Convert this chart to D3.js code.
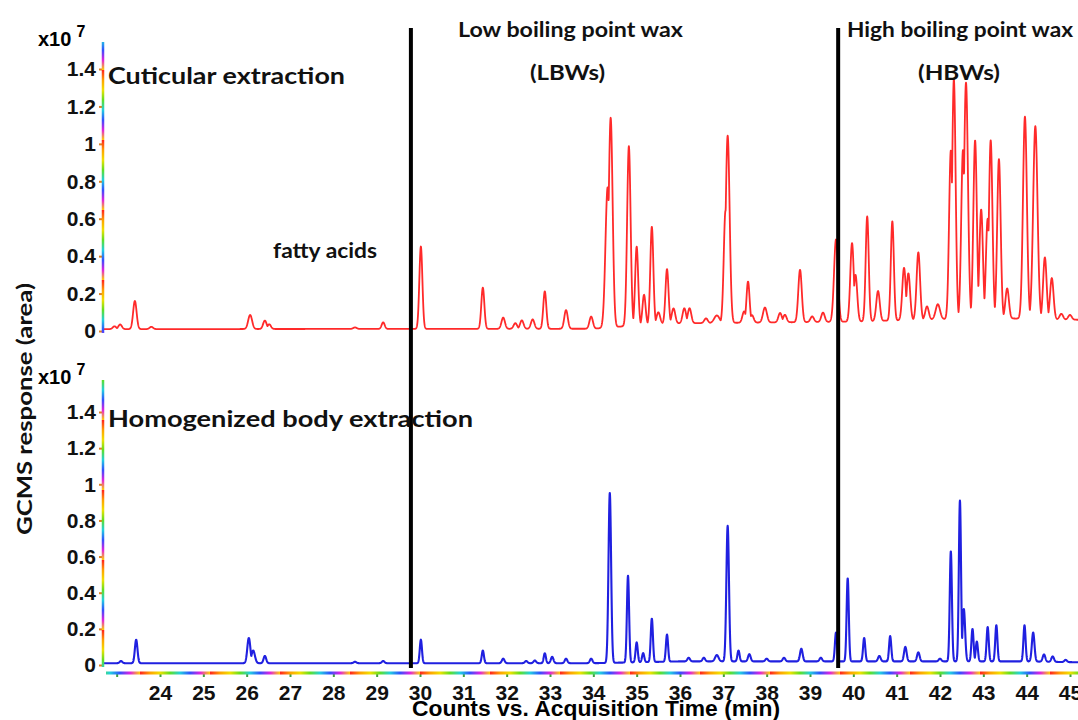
<!DOCTYPE html>
<html>
<head>
<meta charset="utf-8">
<script src="https://cdn.jsdelivr.net/npm/d3@7"></script>
<style>
	body { margin: 0; background: #fff; }
	.tick text { font-family: "Liberation Sans", Arial, sans-serif; font-weight: bold; font-size: 21px; fill: #111; }
	.note { font-family: Lato, "Open Sans", sans-serif; font-weight: bold; fill: #111; }
</style>
</head>
<body>
<svg id="chart" width="1078" height="720"></svg>
<script>
// peak tables: [retention time (min), apex height (x10^7), sigma (min)]
const cuticularPeaks = [
	[22.95, 0.015, 0.04], [23.08, 0.025, 0.04], [23.42, 0.15, 0.04], [23.8, 0.012, 0.04],
	[26.08, 0.075, 0.045], [26.42, 0.045, 0.04], [26.52, 0.025, 0.04], [28.5, 0.008, 0.04],
	[29.15, 0.035, 0.035], [30.02, 0.44, 0.035], [31.45, 0.22, 0.035], [31.92, 0.06, 0.04],
	[32.2, 0.03, 0.04], [32.35, 0.045, 0.04], [32.6, 0.05, 0.04], [32.88, 0.2, 0.035],
	[33.37, 0.1, 0.04], [33.95, 0.065, 0.04], [34.33, 0.75, 0.05], [34.4, 1.12, 0.045],
	[34.82, 0.96, 0.04], [35.0, 0.42, 0.035], [35.17, 0.16, 0.035], [35.35, 0.52, 0.035],
	[35.5, 0.06, 0.04], [35.7, 0.29, 0.035], [35.85, 0.08, 0.04], [36.1, 0.08, 0.04],
	[36.22, 0.08, 0.04], [36.6, 0.025, 0.04], [36.85, 0.04, 0.06], [37.05, 0.6, 0.04],
	[37.1, 1.0, 0.045], [37.48, 0.06, 0.04], [37.57, 0.22, 0.035], [37.66, 0.04, 0.04],
	[37.96, 0.08, 0.045], [38.31, 0.05, 0.04], [38.42, 0.04, 0.04], [38.77, 0.28, 0.04],
	[39.05, 0.03, 0.04], [39.3, 0.05, 0.04], [39.6, 0.44, 0.045], [39.97, 0.42, 0.04],
	[40.05, 0.25, 0.04], [40.32, 0.56, 0.035], [40.57, 0.16, 0.04], [40.9, 0.53, 0.035],
	[41.17, 0.28, 0.04], [41.27, 0.25, 0.04], [41.5, 0.36, 0.04], [41.7, 0.07, 0.04],
	[41.95, 0.08, 0.05], [42.25, 0.9, 0.04], [42.32, 1.28, 0.04], [42.53, 0.9, 0.04],
	[42.6, 1.26, 0.045], [42.81, 0.95, 0.04], [42.95, 0.58, 0.04], [43.1, 0.53, 0.04],
	[43.17, 0.95, 0.04], [43.36, 0.85, 0.04], [43.55, 0.16, 0.04], [43.96, 1.08, 0.045],
	[44.2, 1.03, 0.05], [44.42, 0.33, 0.04], [44.58, 0.22, 0.04], [44.8, 0.03, 0.04],
	[45.0, 0.025, 0.04]
];
const bodyPeaks = [
	[23.1, 0.012, 0.03], [23.45, 0.13, 0.03], [26.05, 0.14, 0.035], [26.15, 0.07, 0.04],
	[26.42, 0.04, 0.03], [28.5, 0.008, 0.03], [29.15, 0.012, 0.03], [30.02, 0.13, 0.025],
	[31.45, 0.07, 0.025], [31.92, 0.025, 0.03], [32.45, 0.012, 0.03], [32.65, 0.015, 0.03],
	[32.88, 0.055, 0.025], [33.05, 0.035, 0.03], [33.37, 0.025, 0.03], [33.95, 0.025, 0.03],
	[34.38, 0.94, 0.03], [34.8, 0.48, 0.025], [35.0, 0.11, 0.025], [35.15, 0.05, 0.025],
	[35.35, 0.24, 0.025], [35.7, 0.15, 0.025], [36.2, 0.02, 0.03], [36.55, 0.02, 0.03],
	[36.85, 0.035, 0.04], [37.1, 0.75, 0.03], [37.35, 0.06, 0.025], [37.6, 0.04, 0.03],
	[38.0, 0.015, 0.03], [38.4, 0.02, 0.03], [38.8, 0.07, 0.03], [39.25, 0.02, 0.03],
	[39.6, 0.16, 0.025], [39.87, 0.46, 0.025], [40.25, 0.13, 0.025], [40.6, 0.03, 0.03],
	[40.85, 0.14, 0.025], [41.2, 0.08, 0.03], [41.5, 0.05, 0.03], [42.0, 0.015, 0.03],
	[42.25, 0.61, 0.025], [42.46, 0.89, 0.025], [42.55, 0.29, 0.03], [42.75, 0.18, 0.025],
	[42.85, 0.11, 0.025], [43.1, 0.19, 0.025], [43.3, 0.2, 0.025], [43.95, 0.2, 0.025],
	[44.15, 0.16, 0.03], [44.4, 0.04, 0.03], [44.6, 0.03, 0.03], [44.9, 0.012, 0.03]
];
// baseline knots
const cuticularBaseT = [22.7, 34.0, 35.5, 40.0, 43.0, 45.2];
const cuticularBaseV = [0.01, 0.012, 0.04, 0.05, 0.07, 0.06];
const bodyBaseT = [22.7, 34.0, 36.0, 44.0, 45.2];
const bodyBaseV = [0.01, 0.01, 0.02, 0.02, 0.015];

const yTicks = [0, 0.2, 0.4, 0.6, 0.8, 1, 1.2, 1.4];
const xTicks = d3.range(23, 46);
const dividers = [29.79, 39.65];

const svg = d3.select("#chart");
const x = d3.scaleLinear().domain([24, 45]).range([160, 1070]);
const yTop = d3.scaleLinear().domain([0, 1.4]).range([331, 69]);
const yBot = d3.scaleLinear().domain([0, 1.4]).range([665, 412]);

// rainbow pattern of the original axis lines
const defs = svg.append("defs");
const rainbow = ["#ff2020", "#ffa000", "#f0e000", "#60e020", "#20d0e0", "#3050ff", "#e020e0", "#ffd000"];
function gradient(id, vertical) {
	const gr = defs.append("linearGradient").attr("id", id)
		.attr("gradientUnits", "userSpaceOnUse").attr("spreadMethod", "repeat")
		.attr("x1", 0).attr("y1", 0)
		.attr("x2", vertical ? 0 : 70).attr("y2", vertical ? 70 : 0);
	rainbow.forEach((c, i) => gr.append("stop").attr("offset", i / (rainbow.length - 1)).attr("stop-color", c));
}
gradient("rbH", false);
gradient("rbV", true);
defs.append("clipPath").attr("id", "plot").append("rect")
	.attr("x", 104).attr("y", 30).attr("width", 974).attr("height", 645);

const tGrid = d3.range(22.7, 45.25, 0.004);
function trace(peaks, baseT, baseV) {
	const base = d3.scaleLinear().domain(baseT).range(baseV).clamp(true);
	return tGrid.map(t => {
		let v = 0;
		for (const [rt, h, w] of peaks) {
			const d = (t - rt) / w;
			if (Math.abs(d) < 5) v = Math.max(v, h * Math.exp(-0.5 * d * d));
		}
		return [t, base(t) + v];
	});
}

function panel(y, peaks, baseT, baseV, color, width, axisTop) {
	const line = d3.line().x(d => x(d[0])).y(d => y(d[1]));
	svg.append("path")
		.datum(trace(peaks, baseT, baseV))
		.attr("clip-path", "url(#plot)")
		.attr("fill", "none").attr("stroke", color).attr("stroke-width", width)
		.attr("stroke-linejoin", "round")
		.attr("d", line);

	const ax = svg.append("g").attr("transform", "translate(103,0)")
		.call(d3.axisLeft(y).tickValues(yTicks).tickFormat(d3.format("~g")).tickSize(4).tickPadding(3));
	ax.select(".domain").remove();
	ax.selectAll(".tick line").attr("stroke", "#e08020").attr("stroke-width", 2);
	svg.append("line").attr("x1", 103).attr("x2", 103)
		.attr("y1", axisTop).attr("y2", y(0) + 2)
		.attr("stroke", "url(#rbV)").attr("stroke-width", 2.5);

	const exp = svg.append("text")
		.attr("x", 38).attr("y", axisTop + 4)
		.style("font-family", "Liberation Sans, Arial, sans-serif").style("font-weight", "bold").style("font-size", "20px");
	exp.append("tspan").text("x10");
	exp.append("tspan").attr("dx", 5).attr("dy", -9).style("font-size", "16px").text("7");
}

panel(yTop, cuticularPeaks, cuticularBaseT, cuticularBaseV, "#ff2a2a", 1.8, 42);
panel(yBot, bodyPeaks, bodyBaseT, bodyBaseV, "#2020e0", 2.1, 380);

// x axis
const xa = svg.append("g").attr("transform", "translate(0,673)")
	.call(d3.axisBottom(x).tickValues(xTicks).tickFormat(d => d === 23 ? "" : d).tickSize(4).tickPadding(8));
xa.select(".domain").remove();
xa.selectAll(".tick line").attr("stroke", "#40a040").attr("stroke-width", 2);
svg.append("line").attr("x1", 106).attr("x2", 1078).attr("y1", 673).attr("y2", 673)
	.attr("stroke", "url(#rbH)").attr("stroke-width", 3);

// divider lines
svg.selectAll(".divider").data(dividers).enter().append("line")
	.attr("class", "divider")
	.attr("x1", d => x(d)).attr("x2", d => x(d))
	.attr("y1", 28).attr("y2", 668)
	.attr("stroke", "#000").attr("stroke-width", 4);

// annotations
function note(txt, x0, y0, size, len) {
	svg.append("text").attr("class", "note")
		.attr("x", x0).attr("y", y0)
		.attr("textLength", len).attr("lengthAdjust", "spacingAndGlyphs")
		.style("font-size", size + "px").text(txt);
}
note("Cuticular extraction", 108, 84, 22, 237);
note("Homogenized body extraction", 108, 427, 22, 365);
note("fatty acids", 273, 258, 20, 104);
note("Low boiling point wax", 458, 37, 20, 225);
note("(LBWs)", 530, 80, 20, 75);
note("High boiling point wax", 847, 37, 20, 226);
note("(HBWs)", 918, 80, 20, 82);

svg.append("text")
	.attr("x", 412).attr("y", 716)
	.attr("textLength", 368).attr("lengthAdjust", "spacingAndGlyphs")
	.style("font-family", "Liberation Sans, Arial, sans-serif").style("font-weight", "bold").style("font-size", "22px")
	.text("Counts vs. Acquisition Time (min)");

svg.append("text")
	.attr("transform", "translate(32,535) rotate(-90)")
	.attr("textLength", 252).attr("lengthAdjust", "spacingAndGlyphs")
	.attr("class", "note").style("font-size", "21px")
	.text("GCMS response (area)");
</script>
</body>
</html>
